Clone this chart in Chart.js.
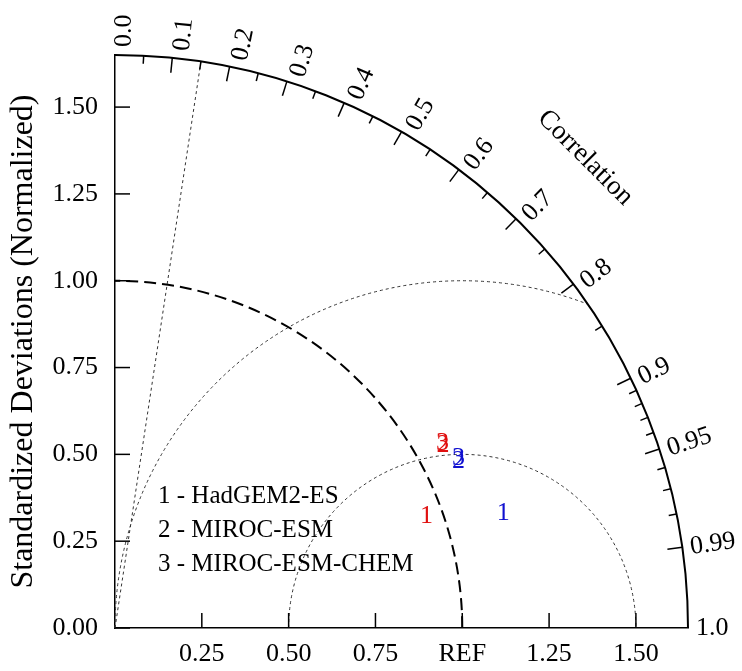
<!DOCTYPE html>
<html>
<head>
<meta charset="utf-8">
<script src="https://cdn.jsdelivr.net/npm/chart.js@4.4.0/dist/chart.umd.min.js"></script>
<style>
  html, body { margin: 0; padding: 0; background: #fff; }
</style>
</head>
<body>
<canvas id="taylor" width="742" height="671"></canvas>
<script>
// ─── Data ────────────────────────────────────────────────────────────────
const models     = ['HadGEM2-ES', 'MIROC-ESM', 'MIROC-ESM-CHEM'];
const redStd     = [0.953, 1.082, 1.083];
const redCorr    = [0.941, 0.873, 0.871];
const blueStd    = [1.166, 1.099, 1.104];
const blueCorr   = [0.959, 0.900, 0.896];

const stdTicks    = [0, 0.25, 0.5, 0.75, 1.0, 1.25, 1.5];
const yTickLabels = ['0.00', '0.25', '0.50', '0.75', '1.00', '1.25', '1.50'];
const xTickLabels = ['', '0.25', '0.50', '0.75', 'REF', '1.25', '1.50'];

const corrMajor  = [0.1, 0.2, 0.3, 0.4, 0.5, 0.6, 0.7, 0.8, 0.9, 0.95, 0.99];
const corrMinor  = [0.05, 0.15, 0.25, 0.35, 0.45, 0.55, 0.65, 0.75, 0.85,
                    0.91, 0.92, 0.93, 0.94, 0.96, 0.97, 0.98];
const corrLabels = ['0.0', '0.1', '0.2', '0.3', '0.4', '0.5', '0.6', '0.7',
                    '0.8', '0.9', '0.95', '0.99', '1.0'];
const rmsRadii   = [0.5, 1.0];
const corrLine   = 0.15;
const maxStd     = 1.65;

const FONT = '"Liberation Serif", "Times New Roman", serif';
const RED  = '#e01010';
const BLUE = '#1010d0';

function toXY(std, corr) {
    return std.map((s, i) => ({ x: s * corr[i], y: s * Math.sqrt(1 - corr[i] * corr[i]) }));
}

// ─── Taylor diagram furniture ────────────────────────────────────────────
const taylorPlugin = {
    id: 'taylor',
    beforeDatasetsDraw(chart) {
        const ctx = chart.ctx;
        const xs = chart.scales.x, ys = chart.scales.y;
        const ox = xs.getPixelForValue(0), oy = ys.getPixelForValue(0);
        const k  = xs.getPixelForValue(1) - ox;
        const R  = maxStd * k;

        ctx.save();

        // dotted RMS circles round REF
        ctx.lineWidth = 1;
        ctx.setLineDash([3, 3]);
        ctx.strokeStyle = '#333';
        const cx = xs.getPixelForValue(1);
        rmsRadii.forEach(rr => {
            const ix = (maxStd * maxStd - rr * rr + 1) / 2;
            let end = 0;
            if (ix - 1 < rr) end = Math.acos((ix - 1) / rr);
            ctx.beginPath();
            ctx.arc(cx, oy, rr * k, Math.PI, 2 * Math.PI - end, false);
            ctx.stroke();
        });

        // dotted radial line
        const th = Math.acos(corrLine);
        ctx.beginPath();
        ctx.moveTo(ox, oy);
        ctx.lineTo(ox + R * Math.cos(th), oy - R * Math.sin(th));
        ctx.stroke();

        // dashed std = 1 arc
        ctx.strokeStyle = '#000';
        ctx.lineWidth = 2;
        ctx.setLineDash([12, 6]);
        ctx.beginPath();
        ctx.arc(ox, oy, k, 0, -Math.PI / 2, true);
        ctx.stroke();
        ctx.setLineDash([]);

        // outer arc
        ctx.beginPath();
        ctx.arc(ox, oy, R, 0, -Math.PI / 2, true);
        ctx.stroke();

        // correlation ticks
        ctx.lineWidth = 1.5;
        const tick = (c, len) => {
            const a = Math.acos(c);
            ctx.beginPath();
            ctx.moveTo(ox + R * Math.cos(a), oy - R * Math.sin(a));
            ctx.lineTo(ox + (R - len) * Math.cos(a), oy - (R - len) * Math.sin(a));
            ctx.stroke();
        };
        corrMajor.forEach(c => tick(c, 15));
        corrMinor.forEach(c => tick(c, 8));

        // std ticks, pointing inward
        stdTicks.forEach(v => {
            const py = ys.getPixelForValue(v);
            ctx.beginPath(); ctx.moveTo(ox, py); ctx.lineTo(ox + 15, py); ctx.stroke();
            if (v > 0) {
                const px = xs.getPixelForValue(v);
                ctx.beginPath(); ctx.moveTo(px, oy); ctx.lineTo(px, oy - 15); ctx.stroke();
            }
        });

        // correlation labels
        ctx.fillStyle = '#000';
        ctx.font = '26px ' + FONT;
        ctx.textAlign = 'left';
        ctx.textBaseline = 'middle';
        corrLabels.forEach(t => {
            const a = Math.acos(parseFloat(t));
            const r = R + 8;
            ctx.save();
            ctx.translate(ox + r * Math.cos(a), oy - r * Math.sin(a));
            ctx.rotate(-a);
            ctx.fillText(t, 0, 9 * Math.sin(a));
            ctx.restore();
        });

        // "Correlation" title
        ctx.save();
        const ta = Math.PI / 4, tr = R + 92;
        ctx.translate(ox + tr * Math.cos(ta), oy - tr * Math.sin(ta));
        ctx.rotate(ta);
        ctx.textAlign = 'center';
        ctx.font = '27px ' + FONT;
        ctx.fillText('Correlation', 0, 0);
        ctx.restore();

        // model key
        ctx.font = '25px ' + FONT;
        ctx.textAlign = 'left';
        models.forEach((m, i) => {
            ctx.fillText((i + 1) + ' - ' + m, ox + 43, oy - 132 + i * 34);
        });

        ctx.restore();
    },
    afterDatasetsDraw(chart) {
        const ctx = chart.ctx;
        ctx.save();
        ctx.font = '26px ' + FONT;
        ctx.textAlign = 'center';
        ctx.textBaseline = 'middle';
        chart.data.datasets.forEach((ds, di) => {
            const meta = chart.getDatasetMeta(di);
            ctx.fillStyle = ds.textColor;
            meta.data.forEach((pt, i) => ctx.fillText(String(i + 1), pt.x, pt.y));
        });
        ctx.restore();
    }
};

new Chart(document.getElementById('taylor'), {
    type: 'scatter',
    data: {
        datasets: [
            { label: 'red',  data: toXY(redStd, redCorr),   pointRadius: 0, textColor: RED },
            { label: 'blue', data: toXY(blueStd, blueCorr), pointRadius: 0, textColor: BLUE },
        ],
    },
    options: {
        responsive: false,
        animation: false,
        layout: { padding: { top: 55, right: 54, left: 0, bottom: 0 } },
        plugins: { legend: { display: false }, tooltip: { enabled: false } },
        scales: {
            x: {
                type: 'linear', min: 0, max: maxStd,
                grid: { display: false },
                border: { display: true, color: '#000', width: 1.5 },
                afterBuildTicks: s => { s.ticks = stdTicks.map(v => ({ value: v })); },
                afterFit: s => { s.height = 43; },
                ticks: {
                    color: '#000', padding: 3, maxRotation: 0, autoSkip: false,
                    font: { family: FONT, size: 26 },
                    callback: (v, i) => xTickLabels[i],
                },
            },
            y: {
                type: 'linear', min: 0, max: maxStd,
                grid: { display: false },
                border: { display: true, color: '#000', width: 1.5 },
                afterBuildTicks: s => { s.ticks = stdTicks.map(v => ({ value: v })); },
                afterFit: s => { s.width = 115; },
                title: {
                    display: true, text: 'Standardized Deviations (Normalized)',
                    color: '#000', font: { family: FONT, size: 32 }, padding: { top: 4, bottom: 0 },
                },
                ticks: {
                    color: '#000', padding: 9, autoSkip: false,
                    font: { family: FONT, size: 26 },
                    callback: (v, i) => yTickLabels[i],
                },
            },
        },
    },
    plugins: [taylorPlugin],
});
</script>
</body>
</html>
